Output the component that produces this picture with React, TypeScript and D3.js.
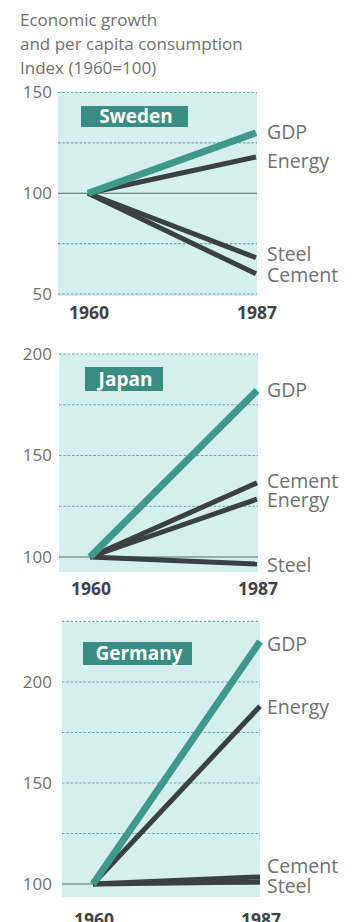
import React from "react";
import * as d3 from "d3";

// ---- data ----
const years = [1960, 1987];
const seriesNames = ["GDP", "Energy", "Steel", "Cement"];
const titleLines = ["Economic growth", "and per capita consumption", "Index (1960=100)"];

const sweden1960 = [100, 100, 100, 100];
const sweden1987 = [130, 118, 68, 60];
const japan1960 = [100, 100, 100, 100];
const japan1987 = [182, 128.5, 96.5, 136.5];
const germany1960 = [100, 100, 100, 100];
const germany1987 = [220, 188, 101, 103.5];

const swedenTicks = [50, 100, 150];
const japanTicks = [100, 150, 200];
const germanyTicks = [100, 150, 200];
const swedenGrid = [50, 75, 125, 150];
const japanGrid = [125, 150, 175, 200];
const germanyGrid = [125, 150, 175, 200, 230];

// ---- styles / layout ----
const FONT = "'Open Sans', 'Noto Sans', sans-serif";
const C = {
  bg: "#d4efee",
  grid: "#6aa7a3",
  base: "#4f6f6c",
  gdp: "#3e998b",
  dark: "#3b4045",
  box: "#3a8d82",
  text: "#707070",
  year: "#3f4346",
};

type Panel = {
  name: string;
  v0: number[];
  v1: number[];
  ticks: number[];
  grid: number[];
  domain: [number, number];
  yRange: [number, number];
  xRange: [number, number];
  bg: [number, number, number, number];
  box: [number, number, number, number];
  labelDy: number[];
  yearY: number;
};

const panels: Panel[] = [
  {
    name: "Sweden",
    v0: sweden1960,
    v1: sweden1987,
    ticks: swedenTicks,
    grid: swedenGrid,
    domain: [50, 150],
    yRange: [294, 92.5],
    xRange: [88, 256],
    bg: [58, 92, 257, 296],
    box: [81, 106, 107, 21],
    labelDy: [-1, 4, -4, 1],
    yearY: 319,
  },
  {
    name: "Japan",
    v0: japan1960,
    v1: japan1987,
    ticks: japanTicks,
    grid: japanGrid,
    domain: [100, 200],
    yRange: [557, 354],
    xRange: [90, 257],
    bg: [59, 354, 258, 572],
    box: [85, 367, 78, 24],
    labelDy: [0, 1.5, 1, -2],
    yearY: 595,
  },
  {
    name: "Germany",
    v0: germany1960,
    v1: germany1987,
    ticks: germanyTicks,
    grid: germanyGrid,
    domain: [100, 200],
    yRange: [884, 682],
    xRange: [93, 260],
    bg: [62, 622, 260, 897],
    box: [83, 642, 109, 23],
    labelDy: [3, 1, 4, -11],
    yearY: 926,
  },
];

function PanelView({ p }: { p: Panel }) {
  const x = d3.scaleLinear().domain(years).range(p.xRange);
  const y = d3.scaleLinear().domain(p.domain).range(p.yRange);
  const line = d3
    .line<[number, number]>()
    .x((d) => x(d[0]))
    .y((d) => y(d[1]));
  const order = [1, 2, 3, 0];
  const [bx0, by0, bx1, by1] = p.bg;
  return (
    <g>
      <rect x={bx0} y={by0} width={bx1 - bx0} height={by1 - by0} fill={C.bg} />
      {p.grid.map((g) => (
        <line
          key={g}
          x1={bx0}
          x2={bx1}
          y1={y(g)}
          y2={y(g)}
          stroke={C.grid}
          strokeWidth={1.2}
          strokeDasharray="2.5,1.8"
        />
      ))}
      <line x1={bx0} x2={bx1} y1={y(100)} y2={y(100)} stroke={C.base} strokeWidth={1.2} />
      {p.ticks.map((t) => (
        <text
          key={t}
          x={52}
          y={y(t)}
          dy="0.35em"
          textAnchor="end"
          fontSize={17}
          fill={C.text}
          fontFamily={FONT}
        >
          {t}
        </text>
      ))}
      <rect x={p.box[0]} y={p.box[1]} width={p.box[2]} height={p.box[3]} fill={C.box} />
      <text
        x={p.box[0] + p.box[2] / 2 + 1.5}
        y={p.box[1] + p.box[3] / 2}
        dy="0.36em"
        textAnchor="middle"
        fontSize={19}
        fontWeight="bold"
        fill="#ffffff"
        fontFamily={FONT}
      >
        {p.name}
      </text>
      {order.map((i) => (
        <path
          key={seriesNames[i]}
          d={line([
            [years[0], p.v0[i]],
            [years[1], p.v1[i]],
          ]) as string}
          fill="none"
          stroke={i === 0 ? C.gdp : C.dark}
          strokeWidth={i === 0 ? 7 : 5}
        />
      ))}
      {seriesNames.map((s, i) => (
        <text
          key={s}
          x={267}
          y={y(p.v1[i]) + p.labelDy[i]}
          dy="0.35em"
          fontSize={19.5}
          fill={C.text}
          fontFamily={FONT}
        >
          {s}
        </text>
      ))}
      {years.map((yr) => (
        <text
          key={yr}
          x={x(yr) + 1}
          y={p.yearY}
          textAnchor="middle"
          fontSize={17.5}
          fontWeight="bold"
          fill={C.year}
          fontFamily={FONT}
        >
          {yr}
        </text>
      ))}
    </g>
  );
}

export default function App() {
  return (
    <svg
      width={354}
      height={922}
      style={{ position: "absolute", left: 0, top: 0, background: "#ffffff" }}
    >
      {titleLines.map((t, i) => (
        <text key={i} x={20} y={26 + i * 24} fontSize={17} fill={C.text} fontFamily={FONT}>
          {t}
        </text>
      ))}
      {panels.map((p) => (
        <PanelView key={p.name} p={p} />
      ))}
    </svg>
  );
}
